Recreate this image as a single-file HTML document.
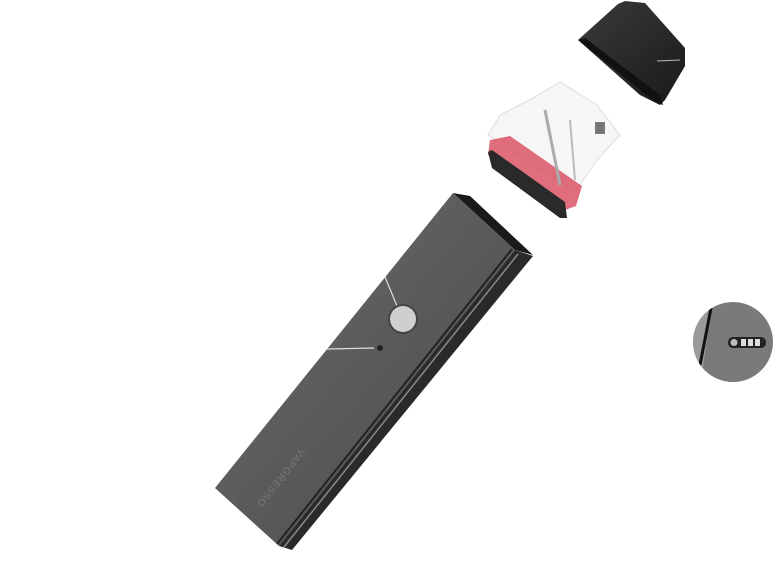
<!DOCTYPE html>
<html><head><meta charset="utf-8"><style>
html,body{margin:0;padding:0;background:#fff;width:778px;height:566px;overflow:hidden}
svg{display:block}
</style></head><body>
<svg width="778" height="566" viewBox="0 0 778 566" xmlns="http://www.w3.org/2000/svg">
<defs>
<linearGradient id="face" x1="0" y1="0" x2="1" y2="1">
<stop offset="0" stop-color="#6e6e6e"/><stop offset="0.5" stop-color="#5a5a5a"/><stop offset="1" stop-color="#4a4a4a"/>
</linearGradient>
<linearGradient id="cap" x1="0" y1="0" x2="1" y2="1">
<stop offset="0" stop-color="#3a3a3a"/><stop offset="1" stop-color="#1a1a1a"/>
</linearGradient>
<clipPath id="cc"><circle cx="733" cy="342" r="40"/></clipPath>
</defs>
<!-- body -->
<polygon points="453,193 470,196 533,255 515,250" fill="#1a1a1a"/>
<polygon points="453,193 515,250 279,546 215,488" fill="url(#face)"/>
<polygon points="515,250 533,256 292,550 279,546" fill="#2a2a2a"/>
<line x1="518" y1="254" x2="284" y2="547" stroke="#8a8a8a" stroke-width="1.5"/>
<line x1="512" y1="249" x2="277" y2="544" stroke="#222" stroke-width="2"/>
<!-- button -->
<line x1="385" y1="277" x2="397" y2="306" stroke="#ddd" stroke-width="1.2"/>
<circle cx="403" cy="319" r="15" fill="#444"/>
<circle cx="403" cy="319" r="13" fill="#cfcfcf"/>
<line x1="327" y1="349" x2="374" y2="348" stroke="#ddd" stroke-width="1.2"/>
<circle cx="380" cy="348" r="3" fill="#222"/>
<text x="0" y="0" transform="translate(300,448) rotate(128)" font-family="Liberation Sans, sans-serif" font-size="10" fill="#777" letter-spacing="1">VAPORESSO</text>
<!-- cap -->
<polygon points="578,40 618,4 625,1 645,3 685,48 685,66 665,100 660,105 640,95" fill="url(#cap)"/>
<polygon points="578,40 585,38 660,95 663,105 655,102" fill="#111"/>
<line x1="657" y1="61" x2="680" y2="60" stroke="#bbb" stroke-width="1"/>
<!-- pod -->
<polygon points="533,98 560,82 597,105 620,135 597,160 575,192 488,135 500,115" fill="#f6f6f6" stroke="#ddd" stroke-width="1"/>
<polygon points="490,140 510,136 582,186 576,206 565,210 488,155" fill="#d84a5c" opacity="0.8"/>
<line x1="545" y1="110" x2="560" y2="185" stroke="#aaa" stroke-width="3"/>
<line x1="570" y1="120" x2="575" y2="180" stroke="#bbb" stroke-width="2"/>
<rect x="595" y="122" width="10" height="12" fill="#777"/>
<polygon points="488,152 492,150 565,202 567,218 560,218 492,168" fill="#2a2a2a"/>
<!-- zoom circle -->
<g clip-path="url(#cc)">
<rect x="690" y="300" width="90" height="90" fill="#7a7a7a"/>
<polygon points="690,300 712,300 700,390 690,390" fill="#9a9a9a"/>
<line x1="711" y1="308" x2="700" y2="365" stroke="#111" stroke-width="3"/>
<rect x="728" y="337" width="38" height="11" rx="5" fill="#222"/>
<circle cx="734" cy="342.5" r="3.5" fill="#bbb"/>
<rect x="741" y="339" width="5" height="7" fill="#ddd"/>
<rect x="748" y="339" width="5" height="7" fill="#ddd"/>
<rect x="755" y="339" width="5" height="7" fill="#ddd"/>
</g>
</svg>
</body></html>
